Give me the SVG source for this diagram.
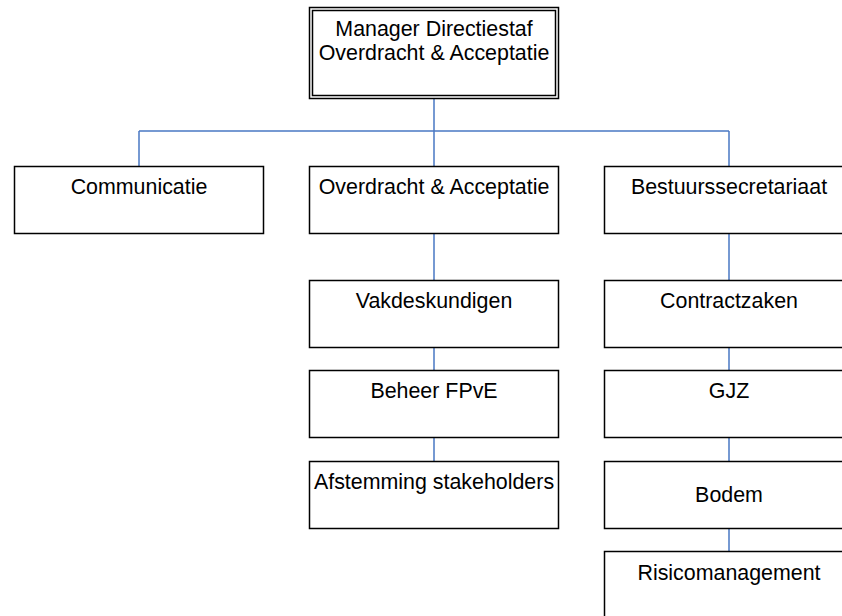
<svg xmlns="http://www.w3.org/2000/svg" width="842" height="616" viewBox="0 0 842 616">
  <style>
    .box { fill: #ffffff; stroke: #000000; stroke-width: 1.5; }
    .lbl { font-family: "Liberation Sans", Arial, sans-serif; font-size: 21.4px; fill: #000000; text-anchor: middle; }
    .conn { fill: none; stroke: #4a78c4; stroke-width: 1.5; }
  </style>
  <rect width="842" height="616" fill="#ffffff"/>

  <!-- connectors -->
  <g id="connectors">
    <path class="conn" d="M434 99 V131 M139 131 H729 M139 131 V166 M434 131 V166 M729 131 V166"/>
    <path class="conn" d="M434 234 V280 M434 347 V371 M434 438 V461"/>
    <path class="conn" d="M729 234 V280 M729 347 V371 M729 438 V461 M729 528 V552"/>
  </g>

  <!-- top node (double border) -->
  <g id="manager">
    <rect class="box" x="309.5" y="7.5" width="249" height="91"/>
    <rect class="box" x="312.5" y="10.5" width="243" height="85"/>
    <text class="lbl" x="434" y="36">Manager Directiestaf</text>
    <text class="lbl" x="434" y="60">Overdracht &amp; Acceptatie</text>
  </g>

  <g id="communicatie">
    <rect class="box" x="14.5" y="166.5" width="249" height="67"/>
    <text class="lbl" x="139" y="194">Communicatie</text>
  </g>
  <g id="overdracht">
    <rect class="box" x="309.5" y="166.5" width="249" height="67"/>
    <text class="lbl" x="434" y="194">Overdracht &amp; Acceptatie</text>
  </g>
  <g id="bestuurssecretariaat">
    <rect class="box" x="604.5" y="166.5" width="249" height="67"/>
    <text class="lbl" x="729" y="194">Bestuurssecretariaat</text>
  </g>

  <g id="vakdeskundigen">
    <rect class="box" x="309.5" y="280.5" width="249" height="67"/>
    <text class="lbl" x="434" y="307.5">Vakdeskundigen</text>
  </g>
  <g id="beheer-fpve">
    <rect class="box" x="309.5" y="370.5" width="249" height="67"/>
    <text class="lbl" x="434" y="397.5">Beheer FPvE</text>
  </g>
  <g id="afstemming">
    <rect class="box" x="309.5" y="461.5" width="249" height="67"/>
    <text class="lbl" x="434" y="488.5">Afstemming stakeholders</text>
  </g>

  <g id="contractzaken">
    <rect class="box" x="604.5" y="280.5" width="249" height="67"/>
    <text class="lbl" x="729" y="307.5">Contractzaken</text>
  </g>
  <g id="gjz">
    <rect class="box" x="604.5" y="370.5" width="249" height="67"/>
    <text class="lbl" x="729" y="397.5">GJZ</text>
  </g>
  <g id="bodem">
    <rect class="box" x="604.5" y="461.5" width="249" height="67"/>
    <text class="lbl" x="729" y="501.5">Bodem</text>
  </g>
  <g id="risicomanagement">
    <rect class="box" x="604.5" y="551.5" width="249" height="67"/>
    <text class="lbl" x="729" y="579.5">Risicomanagement</text>
  </g>
</svg>
